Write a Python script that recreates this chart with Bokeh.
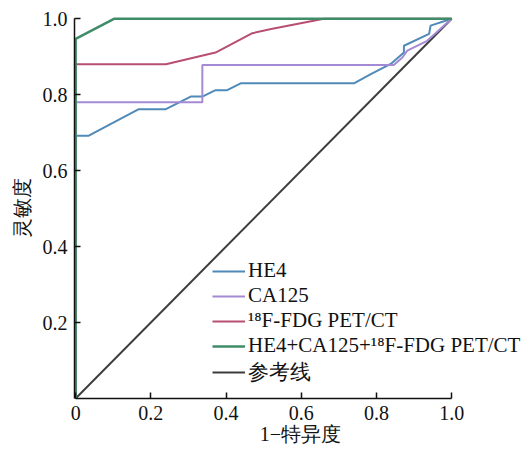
from bokeh.plotting import figure
from bokeh.models import Range1d, FixedTicker, Legend, LegendItem
from bokeh.embed import file_html
from bokeh.resources import INLINE

# ROC data (1-specificity, sensitivity)
he4_x = [0, 0, 0.035, 0.168, 0.24, 0.306, 0.337, 0.372, 0.403, 0.439, 0.74, 0.785, 0.838, 0.873, 0.873, 0.94, 0.944, 1.0]
he4_y = [0, 0.692, 0.692, 0.762, 0.762, 0.795, 0.795, 0.812, 0.812, 0.83, 0.83, 0.854, 0.881, 0.911, 0.929, 0.96, 0.982, 1.0]

ca125_x = [0, 0, 0.337, 0.337, 0.846, 0.869, 0.882, 0.935, 1.0]
ca125_y = [0, 0.78, 0.78, 0.878, 0.878, 0.898, 0.916, 0.942, 1.0]

pet_x = [0, 0, 0.24, 0.372, 0.47, 0.52, 0.66, 1.0]
pet_y = [0, 0.88, 0.88, 0.911, 0.962, 0.973, 1.0, 1.0]

combo_x = [0, 0, 0.102, 1.0]
combo_y = [0, 0.947, 1.0, 1.0]

ref_x = [0, 1]
ref_y = [0, 1]

labels = ["HE4", "CA125", "¹⁸F-FDG PET/CT", "HE4+CA125+¹⁸F-FDG PET/CT", "参考线"]
colors = ["#4f8ab8", "#a48ad2", "#b84f70", "#3f8c68", "#3c3c3c"]

x_ticks = [0, 0.2, 0.4, 0.6, 0.8, 1.0]
y_ticks = [0.2, 0.4, 0.6, 0.8, 1.0]

SERIF = "Liberation Serif"
FS = "20px"

p = figure(frame_width=452, frame_height=382,
           x_range=Range1d(-0.003, 1.199), y_range=Range1d(0, 1.006),
           output_backend="svg", toolbar_location=None,
           min_border_left=74, min_border_top=16, min_border_right=0, min_border_bottom=52)
p.outline_line_color = None
p.grid.visible = False
p.background_fill_color = "white"

r_ref = p.line(ref_x, ref_y, line_color=colors[4], line_width=2)
r_he4 = p.line(he4_x, he4_y, line_color=colors[0], line_width=2)
r_ca = p.line(ca125_x, ca125_y, line_color=colors[1], line_width=2)
r_pet = p.line(pet_x, pet_y, line_color=colors[2], line_width=2)
r_combo = p.line(combo_x, combo_y, line_color=colors[3], line_width=2.5)

for ax in (p.xaxis[0], p.yaxis[0]):
    ax.axis_line_color = "#111111"
    ax.axis_line_width = 1.5
    ax.major_tick_line_color = "#111111"
    ax.major_tick_line_width = 1.5
    ax.major_tick_in = 6
    ax.major_tick_out = 0
    ax.minor_tick_line_color = None
    ax.major_label_text_font = SERIF
    ax.major_label_text_font_size = FS
    ax.major_label_text_color = "#111111"
    ax.axis_label_text_font = SERIF
    ax.axis_label_text_font_size = FS
    ax.axis_label_text_font_style = "normal"
    ax.axis_label_text_color = "#111111"
    ax.bounds = (0, 1)

p.xaxis[0].ticker = FixedTicker(ticks=x_ticks)
p.yaxis[0].ticker = FixedTicker(ticks=y_ticks)
p.xaxis[0].major_label_overrides = {0: "0", 1: "1.0"}
p.yaxis[0].major_label_overrides = {1: "1.0"}
p.xaxis[0].axis_label = "1−特异度"
p.yaxis[0].axis_label = "灵敏度"
p.xaxis[0].major_label_standoff = 7
p.xaxis[0].axis_label_standoff = 0
p.yaxis[0].major_label_standoff = 7
p.yaxis[0].axis_label_standoff = 7

legend = Legend(items=[
    LegendItem(label=labels[0], renderers=[r_he4]),
    LegendItem(label=labels[1], renderers=[r_ca]),
    LegendItem(label=labels[2], renderers=[r_pet]),
    LegendItem(label=labels[3], renderers=[r_combo]),
    LegendItem(label=labels[4], renderers=[r_ref]),
], location=(138, 12))
legend.padding = 0
legend.margin = 0
legend.border_line_alpha = 0
legend.background_fill_alpha = 0
legend.glyph_width = 33
legend.glyph_height = 20
legend.label_height = 20
legend.spacing = -2
legend.label_standoff = 3
legend.label_text_font = SERIF
legend.label_text_font_size = "21px"
legend.label_text_color = "#111111"
p.add_layout(legend, "center")

open("out.html", "w").write(file_html(p, INLINE))
